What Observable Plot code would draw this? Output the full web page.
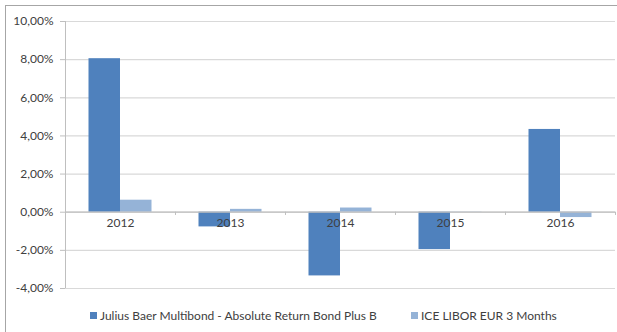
<!DOCTYPE html>
<html>
<head>
<meta charset="utf-8">
<script src="https://cdn.jsdelivr.net/npm/d3@7"></script>
<script src="https://cdn.jsdelivr.net/npm/@observablehq/plot@0.6"></script>
<style>
  html, body { margin: 0; padding: 0; background: #fff; overflow: hidden; }
  #wrap { position: relative; width: 617px; height: 332px; font-family: Lato, "Liberation Sans", sans-serif; color: #404040; }
  #frameL { position: absolute; left: 5px; top: 5px; width: 1px; height: 327px; background: #a6a6a6; }
  #frameT { position: absolute; left: 5px; top: 5px; width: 612px; height: 1px; background: #a6a6a6; }
  #chart { position: absolute; left: 0; top: 0; }
  #legend { position: absolute; left: 0; top: 300px; width: 617px; height: 32px; font-size: 12px; }
  .item { position: absolute; top: 9px; white-space: nowrap; line-height: 14px; }
  .sw { display: inline-block; width: 7px; height: 7px; margin-right: 3px; vertical-align: 1px; }
</style>
</head>
<body>
<div id="wrap">
  <div id="chart"></div>
  <div id="legend"></div>
  <div id="frameL"></div>
  <div id="frameT"></div>
</div>
<script>
const years = ["2012", "2013", "2014", "2015", "2016"];
const seriesNames = ["Julius Baer Multibond - Absolute Return Bond Plus B", "ICE LIBOR EUR 3 Months"];
const fundValues = [8.05, -0.77, -3.34, -1.96, 4.34];
const liborValues = [0.63, 0.15, 0.22, -0.01, -0.28];
const yTicks = [-4, -2, 0, 2, 4, 6, 8, 10];
const seriesColors = ["#4F81BD", "#95B3D7"];

const W = 617, H = 300, ML = 65, MR = 2, MT = 21, MB = 12;

const fmt = d3.formatLocale({decimal: ",", thousands: ".", grouping: [3], currency: ["", "€"], minus: "-"}).format(".2f");
const pct = d => fmt(d) + "%";

const rows = [];
years.forEach((y, i) => {
  rows.push({year: y, series: seriesNames[0], value: fundValues[i], k: 0});
  rows.push({year: y, series: seriesNames[1], value: liborValues[i], k: 1});
});

const bw = Plot.scale({x: {type: "band", domain: years, range: [ML, W - MR], padding: 0}}).bandwidth;
const groupFrac = 63 / 110;
const barW = bw * groupFrac / 2;
const outer = (bw - 2 * barW) / 2;

const chart = Plot.plot({
  width: W, height: H,
  marginLeft: ML, marginRight: MR, marginTop: MT, marginBottom: MB,
  style: {fontFamily: "Lato, 'Liberation Sans', sans-serif", fontSize: "12px", color: "#404040", background: "transparent"},
  x: {domain: years, padding: 0, axis: null},
  y: {domain: [-4, 10], axis: null, label: null},
  color: {domain: seriesNames, range: seriesColors},
  marks: [
    Plot.ruleY(yTicks, {stroke: "#D9D9D9", strokeWidth: 1.2}),
    Plot.barY(rows.filter(d => d.k === 0), {x: "year", y: "value", fill: "series", insetLeft: outer, insetRight: outer + barW}),
    Plot.barY(rows.filter(d => d.k === 1), {x: "year", y: "value", fill: "series", insetLeft: outer + barW, insetRight: outer}),
    Plot.ruleY([0], {stroke: "#BFBFBF", strokeWidth: 1.2}),
    Plot.ruleX([years[0]], {dx: -bw / 2, y1: -4, y2: 10, stroke: "#BFBFBF"}),
    Plot.ruleX(years, {dx: -bw / 2, y1: 0, y2: -0.17, stroke: "#BFBFBF"}),
    Plot.ruleX([years[years.length - 1]], {dx: bw / 2, y1: 0, y2: -0.17, stroke: "#BFBFBF"}),
    Plot.text(years, {x: d => d, y: () => 0, text: d => d, dy: 11, fill: "#404040", fontSize: 12}),
    Plot.axisY(yTicks, {tickFormat: pct, tickSize: 5, tickPadding: 7, stroke: "#BFBFBF", fill: "#404040", fontSize: 12, label: null})
  ]
});
document.getElementById("chart").appendChild(chart);

const legend = document.getElementById("legend");
const legendX = [90, 411];
seriesNames.forEach((name, i) => {
  const it = document.createElement("div");
  it.className = "item";
  it.style.left = legendX[i] + "px";
  const sw = document.createElement("span");
  sw.className = "sw";
  sw.style.background = seriesColors[i];
  it.appendChild(sw);
  it.appendChild(document.createTextNode(name));
  legend.appendChild(it);
});
</script>
</body>
</html>
